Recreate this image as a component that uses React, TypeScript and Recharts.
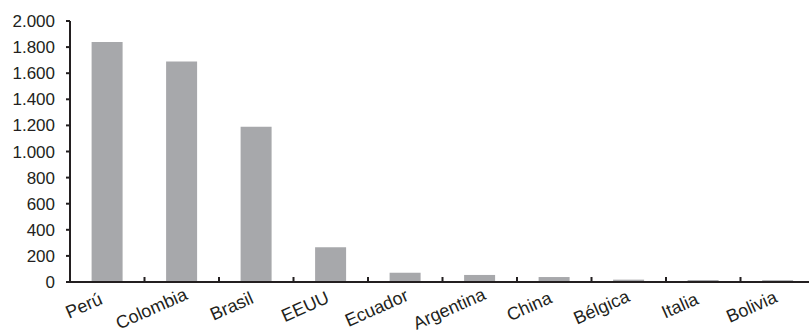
import { BarChart, Bar, XAxis, YAxis } from "recharts";

const countries = [
  "Perú",
  "Colombia",
  "Brasil",
  "EEUU",
  "Ecuador",
  "Argentina",
  "China",
  "Bélgica",
  "Italia",
  "Bolivia",
];
const amounts = [1840, 1690, 1190, 266, 71, 54, 38, 18, 15, 14];
const yTicks = [0, 200, 400, 600, 800, 1000, 1200, 1400, 1600, 1800, 2000];

const data = countries.map((name, i) => ({ name, value: amounts[i] }));

const INK = "#231f20";
const FONT = "'Liberation Sans', Arial, Helvetica, sans-serif";
const LABEL_SIZE = 18;
const LABEL_ANGLE = 24;

// miles con punto
const fmtMiles = (v: number) =>
  String(v).replace(/\B(?=(\d{3})+(?!\d))/g, ".");

let ctx: CanvasRenderingContext2D | null = null;
const textWidth = (s: string) => {
  if (!ctx) {
    ctx = document.createElement("canvas").getContext("2d");
  }
  if (!ctx) return s.length * LABEL_SIZE * 0.55;
  ctx.font = `${LABEL_SIZE}px 'Liberation Sans', Arial, sans-serif`;
  return ctx.measureText(s).width;
};

// etiqueta girada, como en Excel
const CountryTick = (props: any) => {
  const { payload } = props;
  const x = Number(props.x);
  const y = Number(props.y);
  const off = Number(payload?.offset ?? 0);
  const w = textWidth(String(payload.value));
  const px = x - 14;
  const py = y + 26;
  return (
    <g>
      <line x1={x - off} x2={x - off} y1={y} y2={y - 5} stroke={INK} strokeWidth={2} />
      <g transform={`translate(${px},${py}) rotate(${-LABEL_ANGLE})`}>
        <text
          x={-0.7 * w}
          y={0}
          textAnchor="start"
          fill={INK}
          fontSize={LABEL_SIZE}
          fontFamily={FONT}
        >
          {payload.value}
        </text>
      </g>
    </g>
  );
};

export default function App() {
  return (
    <div
      style={{
        position: "absolute",
        left: 0,
        top: 0,
        width: 809,
        height: 335,
        overflow: "hidden",
        background: "#fff",
      }}
    >
      <BarChart
        width={815}
        height={335}
        data={data}
        margin={{ top: 21, right: 0, bottom: 0, left: 0 }}
        barCategoryGap="29%"
      >
        <XAxis
          dataKey="name"
          height={53}
          interval={0}
          tickSize={0}
          tickMargin={0}
          tickLine={false}
          axisLine={{ stroke: INK, strokeWidth: 2 }}
          tick={<CountryTick />}
        />
        <YAxis
          width={70}
          domain={[0, 2000]}
          ticks={yTicks}
          interval={0}
          tickSize={4}
          tickMargin={11}
          tickFormatter={fmtMiles}
          axisLine={{ stroke: INK, strokeWidth: 2 }}
          tickLine={{ stroke: INK, strokeWidth: 2 }}
          tick={{ fill: INK, fontSize: 17, fontFamily: FONT }}
        />
        <Bar dataKey="value" fill="#a7a8ab" isAnimationActive={false} />
      </BarChart>
    </div>
  );
}
